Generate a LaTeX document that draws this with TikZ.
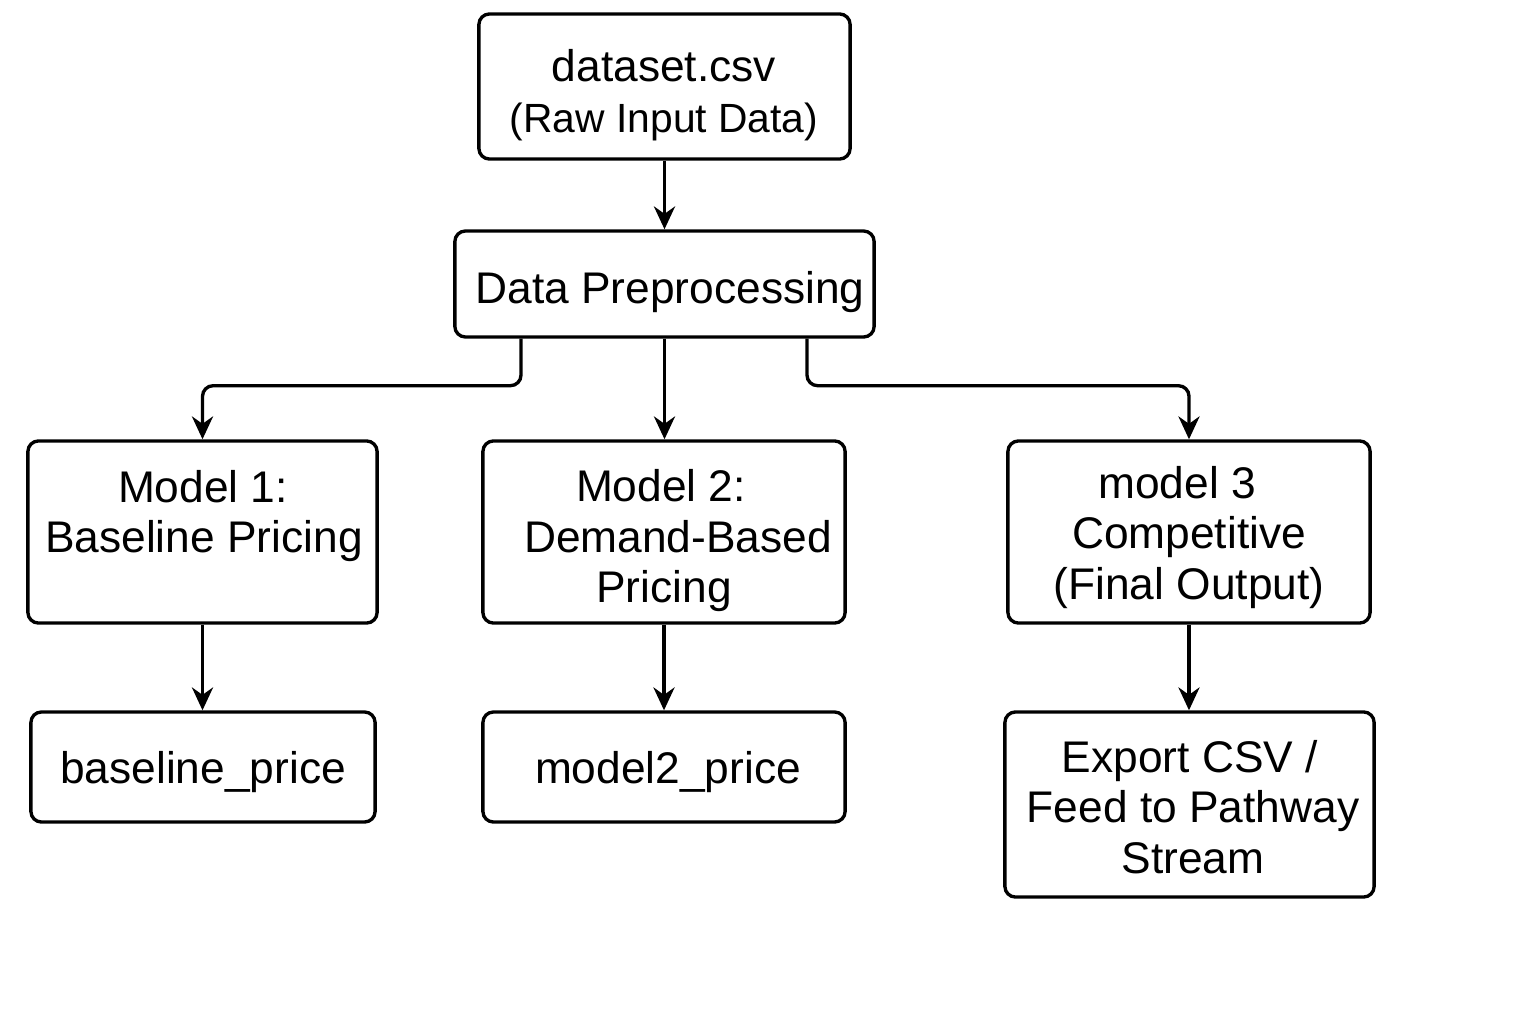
\documentclass[tikz,border=0pt]{standalone}
\usepackage{fontspec}
\setmainfont{Liberation Sans}
\usetikzlibrary{arrows.meta,calc}
\begin{document}
\begin{tikzpicture}[x=0.01cm,y=-0.01cm,
  box/.style={draw,line width=0.95pt,rounded corners=3pt,inner sep=0pt},
  txt/.style={align=center,inner sep=0pt,text height=9pt,text depth=0pt,font=\fontsize{12.6}{14.2}\selectfont},
  stxt/.style={align=center,inner sep=0pt,text height=9pt,text depth=0pt,font=\fontsize{11.6}{14.2}\selectfont},
  arr/.style={line width=0.95pt,rounded corners=3pt,-{Stealth[length=6.5pt,width=6pt]}}]
\useasboundingbox (0,0) rectangle (1536,1024);
% boxes
\node[box,minimum width=3.71cm,minimum height=1.45cm] (ds) at (664.5,86.5) {};
\node[box,minimum width=4.19cm,minimum height=1.06cm] (pre) at (664.5,284) {};
\node[box,minimum width=3.49cm,minimum height=1.82cm] (m1) at (202.5,532) {};
\node[box,minimum width=3.62cm,minimum height=1.82cm] (m2) at (664,532) {};
\node[box,minimum width=3.62cm,minimum height=1.82cm] (m3) at (1189,532) {};
\node[box,minimum width=3.44cm,minimum height=1.10cm] (bp) at (203,767) {};
\node[box,minimum width=3.62cm,minimum height=1.10cm] (mp) at (664,767) {};
\node[box,minimum width=3.69cm,minimum height=1.85cm] (ex) at (1189.5,804.5) {};
% texts
\node[txt] (dst1) at (664,66) {dataset.csv};
\node[stxt] (dst2) at (664,117) {(Raw Input Data)};
\node[txt] (pret) at (670,288) {Data Preprocessing};
\node[txt] (m1t1) at (203,487) {Model 1:};
\node[txt] (m1t2) at (204,537) {Baseline Pricing};
\node[txt] (m2t1) at (661,486) {Model 2:};
\node[txt] (m2t2) at (678,537) {Demand-Based};
\node[txt] (m2t3) at (664,587) {Pricing};
\node[txt] (m3t1) at (1177,483) {model 3};
\node[txt] (m3t2) at (1189,533) {Competitive};
\node[txt] (m3t3) at (1189,584) {(Final Output)};
\node[txt] (bpt) at (203,768) {baseline\_price};
\node[txt] (mpt) at (668,768) {model2\_price};
\node[txt] (ext1) at (1190,757) {Export CSV /};
\node[txt] (ext2) at (1193,807) {Feed to Pathway};
\node[txt] (ext3) at (1193,858) {Stream};
% connectors
\draw[arr] (ds.south) -- (pre.north);
\coordinate (a1) at ($(pre.south)+(-143.5,0)$);
\coordinate (a3) at ($(pre.south)+(142.5,0)$);
\draw[arr] (a1) -- ++(0,47) -| (m1.north);
\draw[arr] (pre.south) -- (pre.south |- m2.north);
\draw[arr] (a3) -- ++(0,47) -| (m3.north);
\draw[arr] (m1.south) -- (m1.south |- bp.north);
\draw[arr] (m2.south) -- (mp.north);
\draw[arr] (m3.south) -- (m3.south |- ex.north);
\end{tikzpicture}
\end{document}
